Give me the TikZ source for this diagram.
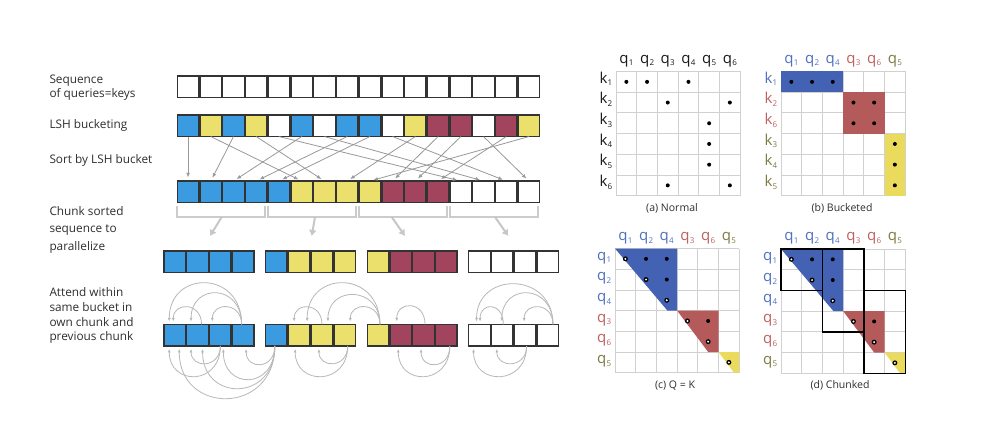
\documentclass[tikz,border=0pt]{standalone}
\usepackage{fontspec}
\setmainfont{Open Sans}
\usetikzlibrary{arrows.meta,calc}
\definecolor{bxblue}{HTML}{3B9BE0}
\definecolor{bxyel}{HTML}{EAE06B}
\definecolor{bxred}{HTML}{A3445F}
\definecolor{mblue}{HTML}{4462B4}
\definecolor{mred}{HTML}{B55A5A}
\definecolor{myel}{HTML}{EADB5C}
\definecolor{lblue}{HTML}{5070C0}
\definecolor{lred}{HTML}{C06060}
\definecolor{lolive}{HTML}{7E7C42}
\definecolor{txt}{HTML}{2E2E2E}
\definecolor{lblack}{HTML}{1A1A1A}
\newcommand{\qlab}[2]{#1\kern0.3pt{\fontsize{8}{8}\selectfont\raisebox{-2.7pt}{#2}}}
\newcommand{\gridsix}[2]{%
  \foreach \k in {0,...,6}{%
    \draw[gridl] ({#1+\k*20.7},#2) -- ({#1+\k*20.7},{#2+124.2});
    \draw[gridl] (#1,{#2+\k*20.7}) -- ({#1+124.2},{#2+\k*20.7});
  }}
\newcommand{\mysdot}[4]{\fill ({#1+(#4-0.5)*20.7},{#2+(#3-0.5)*20.7}) circle (2pt);}
\newcommand{\myhdot}[4]{\fill ({#1+(#4-0.5)*20.7},{#2+(#3-0.5)*20.7}) circle (2.5pt);
  \fill[white] ({#1+(#4-0.5)*20.7},{#2+(#3-0.5)*20.7}) circle (1.1pt);}
\newcommand{\bcdlabels}[4]{%
  \foreach \n/\cl [count=\i] in {1/lblue,2/lblue,4/lblue,3/lred,6/lred,5/lolive}{%
    \node[collab,text=\cl] (#3c\i) at ({#1+(\i-0.5)*20.7},{#2-8.2}) {\qlab{q}{\n}};
  }%
  \foreach \n/\cl [count=\i] in {#4}{%
    \node[rowlab,text=\cl] (#3r\i) at ({#1-3.5},{#2+(\i-1)*20.7+11.6}) {\n};
  }}
\newcommand{\qkpanel}[3]{%
  \gridsix{#1}{#2}
  \fill[mblue] (#1,#2) -- ({#1+62.1},#2) -- ({#1+62.1},{#2+62.1}) -- ({#1+52.4},{#2+62.1}) -- cycle;
  \fill[mred] ({#1+62.1},{#2+62.1}) -- ({#1+103.5},{#2+62.1}) -- ({#1+103.5},{#2+103.5}) -- ({#1+93.15},{#2+103.5}) -- cycle;
  \fill[myel] ({#1+103.5},{#2+103.5}) -- ({#1+124.2},{#2+103.5}) -- ({#1+124.2},{#2+124.2}) -- ({#1+119},{#2+124.2}) -- cycle;
  \myhdot{#1}{#2}{1}{1}\mysdot{#1}{#2}{1}{2}\mysdot{#1}{#2}{1}{3}
  \myhdot{#1}{#2}{2}{2}\mysdot{#1}{#2}{2}{3}
  \myhdot{#1}{#2}{3}{3}
  \myhdot{#1}{#2}{4}{4}\mysdot{#1}{#2}{4}{5}
  \myhdot{#1}{#2}{5}{5}
  \myhdot{#1}{#2}{6}{6}
  \bcdlabels{#1}{#2}{#3}{\qlab{q}{1}/lblue,\qlab{q}{2}/lblue,\qlab{q}{4}/lblue,\qlab{q}{3}/lred,\qlab{q}{6}/lred,\qlab{q}{5}/lolive}
}
\begin{document}
\begin{tikzpicture}[x=1pt,y=-1pt,
  box/.style={draw=black!80, line width=1.3pt, minimum size=21.5pt, inner sep=0pt, outer sep=0pt},
  sortarr/.style={draw=black!40, line width=0.8pt, -{Latex[length=4.5pt,width=3.8pt]}, shorten >=3.6pt},
  bracket/.style={draw=black!20, line width=2pt},
  chunkarr/.style={draw=black!22, line width=2pt, -{Latex[length=6pt,width=8pt]}},
  arcarr/.style={draw=black!28, line width=0.8pt, -{Latex[length=3.5pt,width=3pt]}, shorten >=3pt},
  lefttxt/.style={anchor=base west, inner sep=0pt, text=txt, font=\fontsize{11.8}{13}\selectfont},
  collab/.style={anchor=base, inner sep=0pt, font=\fontsize{15}{15}\selectfont},
  rowlab/.style={anchor=base east, inner sep=0pt, font=\fontsize{15}{15}\selectfont},
  captxt/.style={inner sep=0pt, text=txt, font=\fontsize{10.5}{12}\selectfont},
  gridl/.style={draw=black!18, line width=0.8pt},
  chunkbox/.style={draw=black, line width=1.4pt}]
\useasboundingbox (0,0) rectangle (1000,425);
\fill[white] (0,0) rectangle (1000,425);

% ---------- left labels ----------
\node[lefttxt] (t1a) at (49.3,83.3) {Sequence};
\node[lefttxt] (t1b) at (49.3,97.3) {of queries=keys};
\node[lefttxt] (t2) at (49.3,128.3) {LSH bucketing};
\node[lefttxt] (t3) at (49.3,163.3) {Sort by LSH bucket};
\node[lefttxt] (t4a) at (49.3,215.3) {Chunk sorted};
\node[lefttxt] (t4b) at (49.3,232.8) {sequence to};
\node[lefttxt] (t4c) at (49.3,250) {parallelize};
\node[lefttxt] (t5a) at (49.3,296.5) {Attend within};
\node[lefttxt] (t5b) at (49.3,311.3) {same bucket in};
\node[lefttxt] (t5c) at (49.3,326) {own chunk and};
\node[lefttxt] (t5d) at (49.3,340.5) {previous chunk};

% ---------- rows ----------
\foreach \i in {0,...,15} \node[box,fill=white] (a\i) at ({188.05+22.73*\i},86.8) {};
\foreach \c [count=\i from 0] in {bxblue,bxyel,bxblue,bxyel,white,bxblue,white,bxblue,bxblue,white,bxyel,bxred,bxred,white,bxred,bxyel}
  \node[box,fill=\c] (b\i) at ({188.05+22.73*\i},125.8) {};
\foreach \c [count=\i from 0] in {bxblue,bxblue,bxblue,bxblue,bxblue,bxyel,bxyel,bxyel,bxyel,bxred,bxred,bxred,white,white,white,white}
  \node[box,fill=\c] (s\i) at ({188.05+22.73*\i},191.8) {};
\foreach \c [count=\i from 0] in {bxblue,bxblue,bxblue,bxblue,bxblue,bxyel,bxyel,bxyel,bxyel,bxred,bxred,bxred,white,white,white,white}{
  \pgfmathsetmacro\cx{174.75+101.6*int(\i/4)+22.8*mod(\i,4)}
  \node[box,fill=\c] (c\i) at (\cx,261.8) {};
  \node[box,fill=\c] (d\i) at (\cx,335.2) {};
}

% ---------- sort arrows ----------
\foreach \s/\d in {0/0,1/5,2/1,3/6,4/12,5/2,6/13,7/3,8/4,9/14,10/7,11/9,12/10,13/15,14/11,15/8}
  \draw[sortarr] (b\s.south) -- (s\d.north);

% ---------- brackets ----------
\foreach \k in {0,1,2,3}{
  \pgfmathtruncatemacro\fa{4*\k}
  \pgfmathtruncatemacro\fb{4*\k+3}
  \draw[bracket] ($(s\fa.south west)+(0,3.5)$) -- ++(0,10.7) -| ($(s\fb.south east)+(-1.5,3.5)$);
}
\coordinate (bm0) at (221.7,217); \coordinate (be0) at (210,236);
\coordinate (bm1) at (315,217);   \coordinate (be1) at (311.7,236);
\coordinate (bm2) at (391.7,217); \coordinate (be2) at (405,236);
\coordinate (bm3) at (495,217);   \coordinate (be3) at (508.3,236);
\foreach \k in {0,1,2,3} \draw[chunkarr] (bm\k) -- (be\k);

% ---------- attention arcs above ----------
\draw[arcarr] ([xshift=-1.5pt]d3.north) .. controls +(0,-54.7) and +(0,-54.7) .. ([xshift=-5.5pt]d0.north);
\draw[arcarr] ([xshift=-1.5pt]d3.north) .. controls +(0,-41.3) and +(0,-41.3) .. ([xshift=-6.5pt]d1.north);
\draw[arcarr] ([xshift=4pt]d1.north) .. controls +(0,-22.7) and +(0,-22.7) .. ([xshift=-1.5pt]d0.north);
\draw[arcarr] ([xshift=-1.5pt]d3.north) .. controls +(0,-22.7) and +(0,-22.7) .. ([xshift=-8pt]d2.north);
\draw[arcarr] ([xshift=0pt]d6.north) .. controls +(0,-22.7) and +(0,-22.7) .. ([xshift=-5pt]d5.north);
\draw[arcarr] ([xshift=2pt]d8.north) .. controls +(0,-54.7) and +(0,-54.7) .. ([xshift=8pt]d5.north);
\draw[arcarr] ([xshift=2pt]d8.north) .. controls +(0,-39) and +(0,-39) .. ([xshift=6pt]d6.north);
\draw[arcarr] ([xshift=2pt]d8.north) .. controls +(0,-22.7) and +(0,-22.7) .. ([xshift=5.5pt]d7.north);
\draw[arcarr] ([xshift=1.5pt]d10.north) .. controls +(0,-24) and +(0,-24) .. ([xshift=-4pt]d9.north);
\draw[arcarr] ([xshift=5pt]d15.north) .. controls +(0,-53.3) and +(0,-53.3) .. ([xshift=-3pt]d12.north);
\draw[arcarr] ([xshift=5pt]d15.north) .. controls +(0,-41.3) and +(0,-41.3) .. ([xshift=-0.5pt]d13.north);
\draw[arcarr] ([xshift=5pt]d15.north) .. controls +(0,-22.7) and +(0,-22.7) .. ([xshift=-1pt]d14.north);
\draw[arcarr] ([xshift=1pt]d13.north) .. controls +(0,-22.7) and +(0,-22.7) .. ([xshift=0.5pt]d12.north);

% ---------- attention arcs below ----------
\draw[arcarr] ([xshift=0pt]d2.south) .. controls +(0,40) and +(0,40) .. ([xshift=-5.5pt]d0.south);
\draw[arcarr] ([xshift=0pt]d2.south) .. controls +(0,22.7) and +(0,22.7) .. ([xshift=-6.5pt]d1.south);
\draw[arcarr] ([xshift=-1.5pt]d4.south) .. controls +(0,69.3) and +(0,69.3) .. ([xshift=4.5pt]d0.south);
\draw[arcarr] ([xshift=-1.5pt]d4.south) .. controls +(0,56) and +(0,56) .. ([xshift=5pt]d1.south);
\draw[arcarr] ([xshift=-1.5pt]d4.south) .. controls +(0,44) and +(0,44) .. ([xshift=3pt]d2.south);
\draw[arcarr] ([xshift=-1.5pt]d4.south) .. controls +(0,24) and +(0,24) .. ([xshift=3pt]d3.south);
\draw[arcarr] ([xshift=3pt]d7.south) .. controls +(0,40) and +(0,40) .. ([xshift=-4pt]d5.south);
\draw[arcarr] ([xshift=3pt]d7.south) .. controls +(0,22.7) and +(0,22.7) .. ([xshift=-3pt]d6.south);
\draw[arcarr] ([xshift=3.5pt]d11.south) .. controls +(0,40) and +(0,40) .. ([xshift=-2.5pt]d9.south);
\draw[arcarr] ([xshift=3.5pt]d11.south) .. controls +(0,24) and +(0,24) .. ([xshift=-2.5pt]d10.south);
\draw[arcarr] ([xshift=1.5pt]d14.south) .. controls +(0,40) and +(0,40) .. ([xshift=-6pt]d12.south);
\draw[arcarr] ([xshift=1.5pt]d14.south) .. controls +(0,22.7) and +(0,22.7) .. ([xshift=-5.5pt]d13.south);

% ---------- (a) Normal ----------
\gridsix{616}{71.5}
\foreach \r/\c in {1/1,1/2,1/4,2/3,2/6,3/5,4/5,5/5,6/3,6/6} {\mysdot{616}{71.5}{\r}{\c}}
\foreach \n [count=\i] in {1,...,6}{
  \node[collab,text=lblack] (pac\i) at ({616+(\i-0.5)*20.7},63.3) {\qlab{q}{\n}};
  \node[rowlab,text=lblack] (par\i) at ({616-3.5},{71.5+(\i-1)*20.7+11.6}) {\qlab{k}{\n}};
}
\node[captxt] (capa) at (672,208.3) {(a) Normal};

% ---------- (b) Bucketed ----------
\gridsix{781}{71.5}
\fill[mblue] (781,71.5) rectangle ({781+62.1},{71.5+20.7});
\fill[mred] ({781+62.1},{71.5+20.7}) rectangle ({781+103.5},{71.5+62.1});
\fill[myel] ({781+103.5},{71.5+62.1}) rectangle ({781+124.2},{71.5+124.2});
\foreach \r/\c in {1/1,1/2,1/3,2/4,2/5,3/4,3/5,4/6,5/6,6/6} {\mysdot{781}{71.5}{\r}{\c}}
\bcdlabels{781}{71.5}{pb}{\qlab{k}{1}/lblue,\qlab{k}{2}/lred,\qlab{k}{6}/lred,\qlab{k}{3}/lolive,\qlab{k}{4}/lolive,\qlab{k}{5}/lolive}
\node[captxt] (capb) at (842,208.3) {(b) Bucketed};

% ---------- (c) Q = K ----------
\qkpanel{615}{248.5}{pc}
\node[captxt] (capc) at (675,385.3) {(c) Q = K};

% ---------- (d) Chunked ----------
\qkpanel{781}{249}{pd}
\draw[chunkbox] (781,249) rectangle ({781+41.4},{249+41.4});
\draw[chunkbox] ({781+41.4},249) rectangle ({781+82.8},{249+82.8});
\draw[chunkbox] ({781+82.8},{249+41.4}) rectangle ({781+124.2},{249+124.2});
\node[captxt] (capd) at (840,385.8) {(d) Chunked};
\end{tikzpicture}
\end{document}
